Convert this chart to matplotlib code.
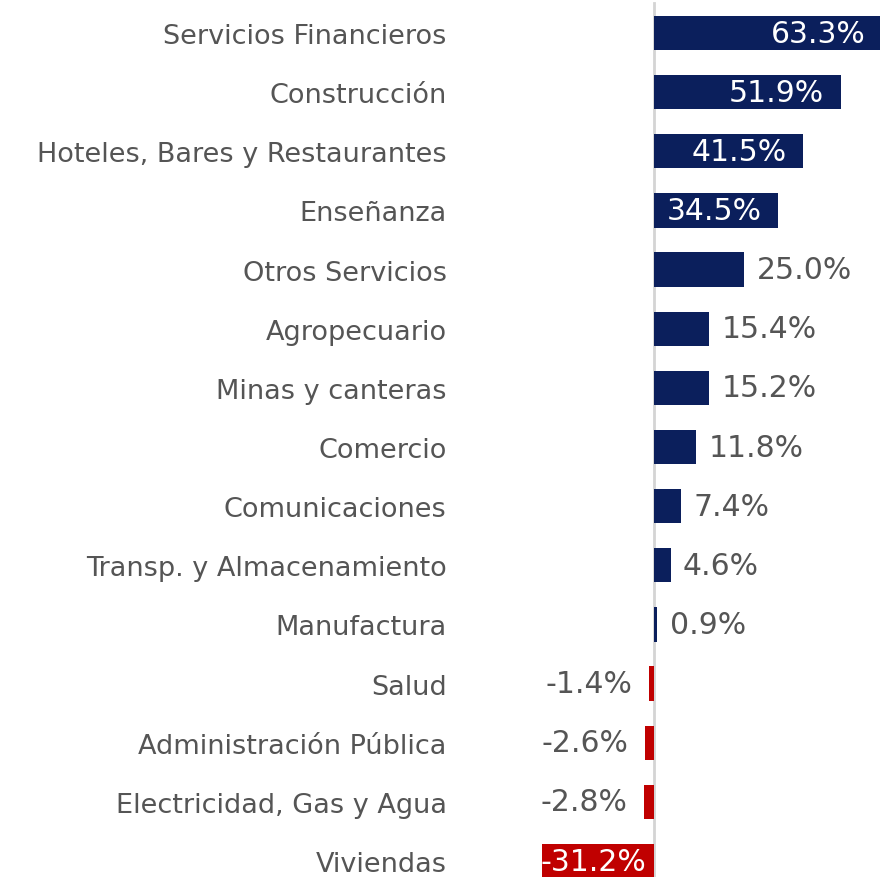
import matplotlib
matplotlib.use("Agg")
import matplotlib.pyplot as plt

plt.rcParams["font.family"] = ["DejaVu Sans"]

categories = ["Servicios Financieros", "Construcción", "Hoteles, Bares y Restaurantes",
              "Enseñanza", "Otros Servicios", "Agropecuario", "Minas y canteras",
              "Comercio", "Comunicaciones", "Transp. y Almacenamiento", "Manufactura",
              "Salud", "Administración Pública", "Electricidad, Gas y Agua", "Viviendas"]
values = [63.3, 51.9, 41.5, 34.5, 25.0, 15.4, 15.2, 11.8, 7.4, 4.6, 0.9,
          -1.4, -2.6, -2.8, -31.2]
inside = [True, True, True, True, False, False, False, False, False, False, False,
          False, False, False, True]

NAVY = "#0B1F5C"
RED = "#C00000"
GRAY = "#555555"

W, H = 880, 878
fig = plt.figure(figsize=(W / 100, H / 100), dpi=100)
ax = fig.add_axes([541 / W, 0, 339 / W, 1])

ypos = list(range(len(categories)))
colors = [NAVY if v >= 0 else RED for v in values]
ax.barh(ypos, values, height=0.58, color=colors, zorder=2)
ax.axvline(0, color="#d4d4d4", lw=2, zorder=1, ymax=0.995)

ax.set_xlim(-31.4, 62.8)
ax.set_ylim(14.27, -0.575)
ax.set_yticks(ypos)
ax.set_yticklabels(categories, fontsize=19.5, color=GRAY)
ax.tick_params(axis="y", length=0, pad=68)
ax.tick_params(axis="x", bottom=False, labelbottom=False)
for s in ax.spines.values():
    s.set_visible(False)

VS = 21.5
for y, v, ins in zip(ypos, values, inside):
    lab = f"{v:.1f}%"
    if ins:
        if v >= 0:
            ax.annotate(lab, (v, y), xytext=(-12, 0), textcoords="offset points",
                        ha="right", va="center", color="white", fontsize=VS,
                        annotation_clip=False)
        else:
            ax.annotate(lab, (v / 2, y), xytext=(-3, 0), textcoords="offset points",
                        ha="center", va="center", color="white", fontsize=VS)
    else:
        if v >= 0:
            ax.annotate(lab, (v, y), xytext=(9, 0), textcoords="offset points",
                        ha="left", va="center", color=GRAY, fontsize=VS)
        else:
            ax.annotate(lab, (v, y), xytext=(-12, 0), textcoords="offset points",
                        ha="right", va="center", color=GRAY, fontsize=VS)

fig.savefig("out.png", dpi=100)
